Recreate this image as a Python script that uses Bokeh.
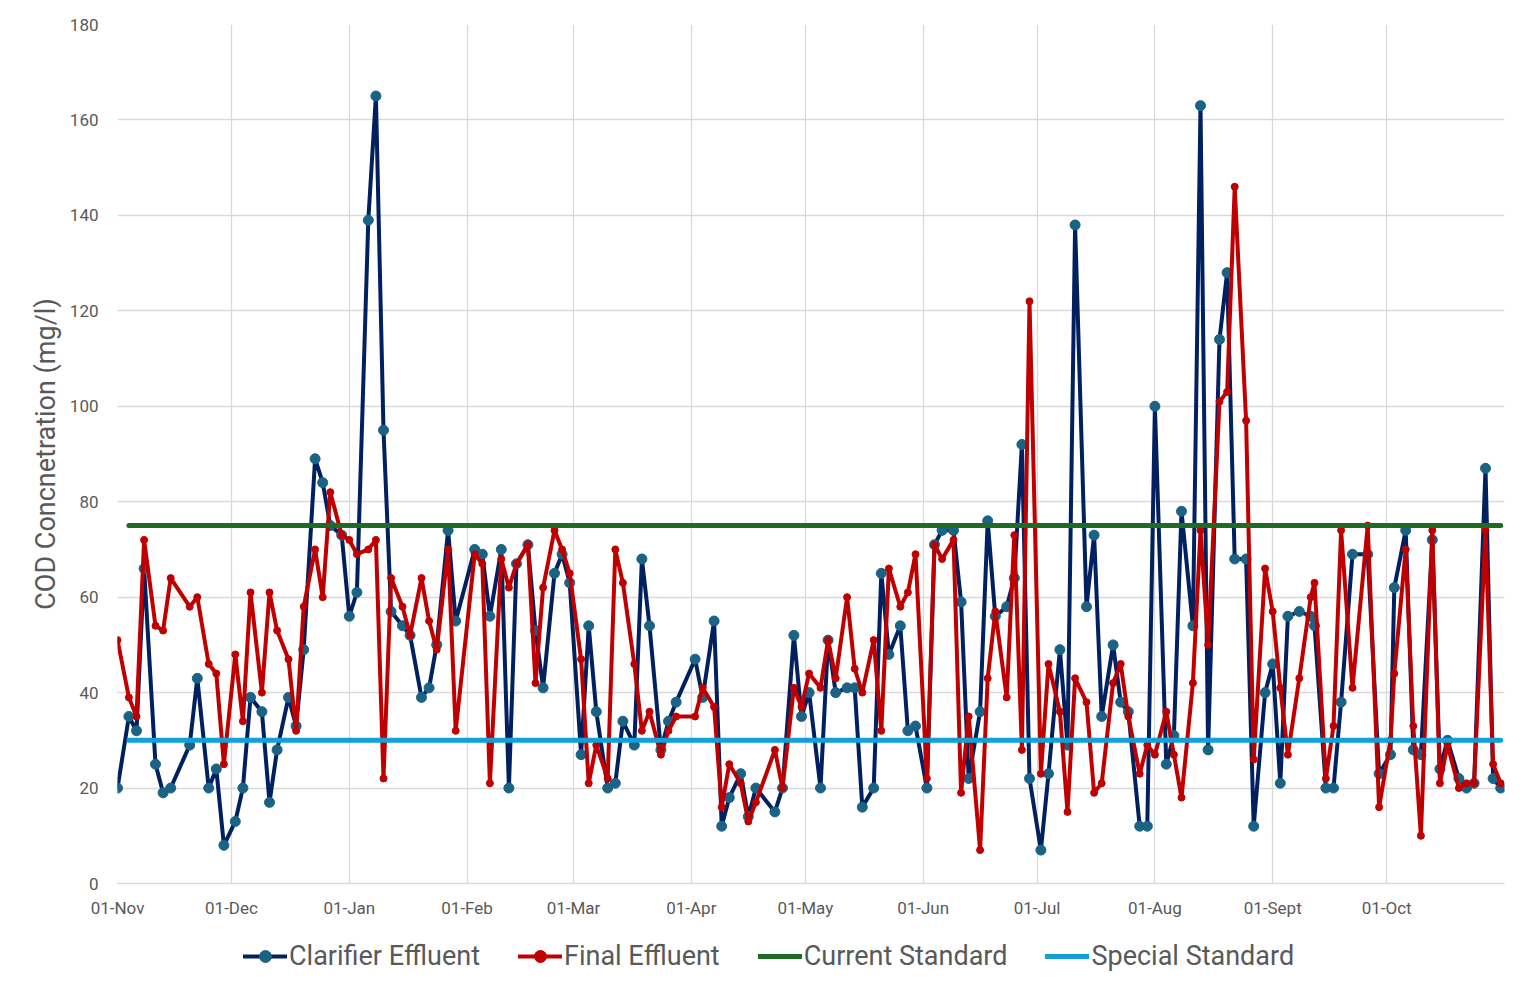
from bokeh.plotting import figure
from bokeh.layouts import column
from bokeh.models import FixedTicker, Legend, LegendItem, Range1d, ColumnDataSource
from bokeh.embed import file_html
from bokeh.resources import INLINE

# ---- data (days since 01-Nov) ----
sample_day = [0, 3, 5, 7, 10, 12, 14, 19, 21, 24, 26, 28, 31, 33, 35, 38, 40, 42, 45, 47,
              49, 52, 54, 56, 59, 61, 63, 66, 68, 70, 72, 75, 77, 80, 82, 84, 87, 89, 94, 96,
              98, 101, 103, 105, 108, 110, 112, 115, 117, 119, 122, 124, 126, 129, 131, 133, 136, 138, 140, 143,
              145, 147, 152, 154, 157, 159, 161, 164, 166, 168, 173, 175, 178, 180, 182, 185, 187, 189, 192, 194,
              196, 199, 201, 203, 206, 208, 210, 213, 215, 217, 220, 222, 224, 227, 229, 231, 234, 236, 238, 240,
              243, 245, 248, 250, 252, 255, 257, 259, 262, 264, 266, 269, 271, 273, 276, 278, 280, 283, 285, 287,
              290, 292, 294, 297, 299, 302, 304, 306, 308, 311, 314, 315, 318, 320, 322, 325, 329, 332, 335, 336,
              339, 341, 343, 346, 348, 350, 353, 355, 357, 360, 362, 364]

clarifier_effluent = [20, 35, 32, 66, 25, 19, 20, 29, 43, 20, 24, 8, 13, 20, 39, 36, 17, 28, 39, 33,
                      49, 89, 84, 75, 73, 56, 61, 139, 165, 95, 57, 54, 52, 39, 41, 50, 74, 55, 70, 69,
                      56, 70, 20, 67, 71, 53, 41, 65, 69, 63, 27, 54, 36, 20, 21, 34, 29, 68, 54, 28,
                      34, 38, 47, 39, 55, 12, 18, 23, 14, 20, 15, 20, 52, 35, 40, 20, 51, 40, 41, 41,
                      16, 20, 65, 48, 54, 32, 33, 20, 71, 74, 74, 59, 22, 36, 76, 56, 58, 64, 92, 22,
                      7, 23, 49, 29, 138, 58, 73, 35, 50, 38, 36, 12, 12, 100, 25, 31, 78, 54, 163, 28,
                      114, 128, 68, 68, 12, 40, 46, 21, 56, 57, 56, 54, 20, 20, 38, 69, 69, 23, 27, 62,
                      74, 28, 27, 72, 24, 30, 22, 20, 21, 87, 22, 20]

final_effluent = [51, 39, 35, 72, 54, 53, 64, 58, 60, 46, 44, 25, 48, 34, 61, 40, 61, 53, 47, 32,
                  58, 70, 60, 82, 73, 72, 69, 70, 72, 22, 64, 58, 52, 64, 55, 49, 70, 32, 69, 67,
                  21, 68, 62, 67, 71, 42, 62, 74, 70, 65, 47, 21, 29, 22, 70, 63, 46, 32, 36, 27,
                  32, 35, 35, 41, 37, 16, 25, 21, 13, 17, 28, 20, 41, 37, 44, 41, 51, 43, 60, 45,
                  40, 51, 32, 66, 58, 61, 69, 22, 71, 68, 72, 19, 35, 7, 43, 57, 39, 73, 28, 122,
                  23, 46, 36, 15, 43, 38, 19, 21, 42, 46, 35, 23, 29, 27, 36, 27, 18, 42, 74, 50,
                  101, 103, 146, 97, 26, 66, 57, 41, 27, 43, 60, 63, 22, 33, 74, 41, 75, 16, 30, 44,
                  70, 33, 10, 74, 21, 29, 20, 21, 21, 74, 25, 21]

current_standard = 75
special_standard = 30

month_ticks = [0, 30, 61, 92, 120, 151, 181, 212, 242, 273, 304, 334]
month_labels = ["01-Nov", "01-Dec", "01-Jan", "01-Feb", "01-Mar", "01-Apr",
                "01-May", "01-Jun", "01-Jul", "01-Aug", "01-Sept", "01-Oct"]
y_ticks = [0, 20, 40, 60, 80, 100, 120, 140, 160, 180]

assert len(sample_day) == len(clarifier_effluent) == len(final_effluent)

FONT = "Roboto"
TXT = "#595959"
GRID = "#D9D9D9"

C_CLAR_LINE, C_CLAR_MARK = "#002060", "#1B6385"
C_FIN = "#C00000"
C_CUR = "#1E6B24"
C_SPE = "#12A0D7"

p = figure(frame_width=1387, frame_height=859, output_backend="svg", toolbar_location=None,
           x_range=Range1d(0, 365), y_range=Range1d(0, 180),
           min_border_left=117, min_border_right=24, min_border_top=24, min_border_bottom=40,
           background_fill_color="white", border_fill_color="white", outline_line_color=None)

# axes
p.xaxis.ticker = FixedTicker(ticks=month_ticks)
p.xaxis.major_label_overrides = {t: l for t, l in zip(month_ticks, month_labels)}
p.yaxis.ticker = FixedTicker(ticks=y_ticks)
for ax in (p.xaxis[0], p.yaxis[0]):
    ax.major_tick_line_color = None
    ax.minor_tick_line_color = None
    ax.major_label_text_font = FONT
    ax.major_label_text_font_size = "17px"
    ax.major_label_text_color = TXT
p.xaxis.axis_line_color = GRID
p.xaxis.axis_line_width = 1.3
p.yaxis.axis_line_color = None
p.xaxis.major_label_standoff = 8
p.yaxis.major_label_standoff = 13
p.yaxis.axis_label = "COD Concnetration (mg/l)"
p.yaxis.axis_label_text_font = FONT
p.yaxis.axis_label_text_font_size = "27px"
p.yaxis.axis_label_text_font_style = "normal"
p.yaxis.axis_label_text_color = TXT
p.yaxis.axis_label_standoff = 5

# grids
p.xgrid.ticker = FixedTicker(ticks=month_ticks + [365])
p.ygrid.ticker = FixedTicker(ticks=y_ticks)
for g in (p.xgrid[0], p.ygrid[0]):
    g.grid_line_color = GRID
    g.grid_line_width = 1.3

src = ColumnDataSource(dict(day=sample_day, clar=clarifier_effluent, fin=final_effluent))

p.line("day", "clar", source=src, line_color=C_CLAR_LINE, line_width=4, line_join="round", line_cap="round")
p.scatter("day", "clar", source=src, size=10, fill_color=C_CLAR_MARK, line_color=C_CLAR_MARK)
p.line("day", "fin", source=src, line_color=C_FIN, line_width=4, line_join="round", line_cap="round")
p.scatter("day", "fin", source=src, size=7, fill_color=C_FIN, line_color=C_FIN)

std_days = sample_day[1:]
p.line(std_days, [current_standard] * len(std_days), line_color=C_CUR, line_width=5, line_cap="round")
p.line(std_days, [special_standard] * len(std_days), line_color=C_SPE, line_width=5, line_cap="round")

# ---- legend strip below the chart (key glyphs only, no data drawn) ----
lg = figure(width=1528, height=70, output_backend="svg", toolbar_location=None,
            x_range=Range1d(0, 1), y_range=Range1d(0, 1), min_border=0,
            x_axis_location=None, y_axis_location=None, outline_line_color=None,
            background_fill_color="white", border_fill_color="white")
lg.grid.visible = False
nan = float("nan")
key_src = ColumnDataSource(dict(x=[nan], y=[nan]))
k1 = lg.line("x", "y", source=key_src, line_color=C_CLAR_LINE, line_width=4, line_cap="round")
k1m = lg.scatter("x", "y", source=key_src, size=10, fill_color=C_CLAR_MARK, line_color=C_CLAR_MARK)
k2 = lg.line("x", "y", source=key_src, line_color=C_FIN, line_width=4, line_cap="round")
k2m = lg.scatter("x", "y", source=key_src, size=7, fill_color=C_FIN, line_color=C_FIN)
k3 = lg.line("x", "y", source=key_src, line_color=C_CUR, line_width=5, line_cap="round")
k4 = lg.line("x", "y", source=key_src, line_color=C_SPE, line_width=5, line_cap="round")

legend = Legend(items=[LegendItem(label="Clarifier Effluent", renderers=[k1, k1m]),
                       LegendItem(label="Final Effluent", renderers=[k2, k2m]),
                       LegendItem(label="Current Standard", renderers=[k3]),
                       LegendItem(label="Special Standard", renderers=[k4])],
                orientation="horizontal", location=(126, 21),
                label_text_font=FONT, label_text_font_size="27px", label_text_color=TXT,
                glyph_width=44, glyph_height=30, label_height=30, label_standoff=2, spacing=38,
                border_line_color=None, background_fill_alpha=0, padding=0, margin=0)
lg.add_layout(legend, "center")

layout = column(p, lg, spacing=0)
open("out.html", "w").write(file_html(layout, INLINE))
